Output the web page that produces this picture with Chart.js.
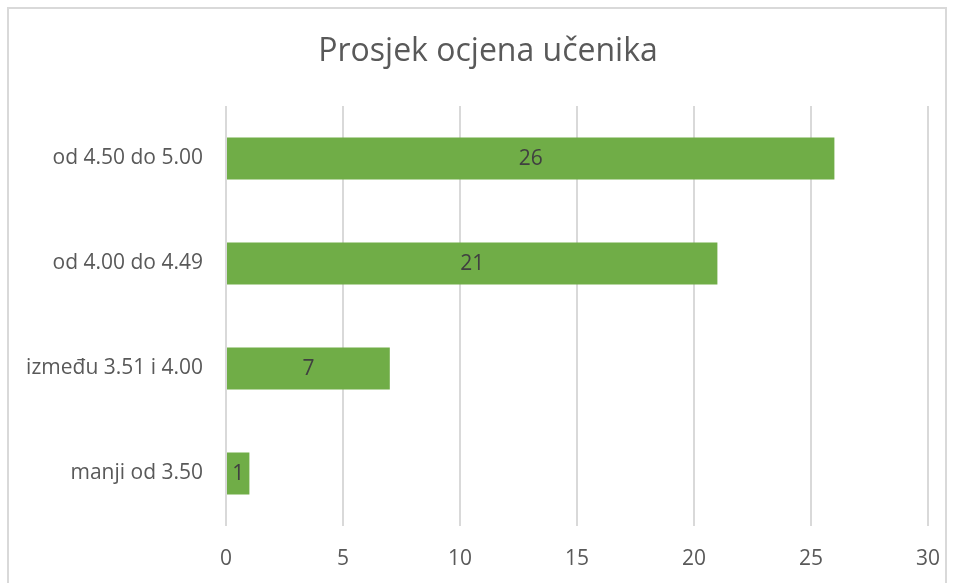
<!DOCTYPE html>
<html>
<head>
<meta charset="utf-8">
<script src="https://cdn.jsdelivr.net/npm/chart.js@4"></script>
<style>
html,body{margin:0;padding:0;background:#fff;}
#wrap{width:955px;height:583px;position:relative;}
</style>
</head>
<body>
<div id="wrap"><canvas id="c" width="955" height="583"></canvas></div>
<script>
const categories = ["od 4.50 do 5.00", "od 4.00 do 4.49", "između 3.51 i 4.00", "manji od 3.50"];
const values = [26, 21, 7, 1];
const xTicks = [0, 5, 10, 15, 20, 25, 30];
const titleText = "Prosjek ocjena učenika";

const FONT = "'Open Sans', sans-serif";

const borderPlugin = {
  id: 'outerBorder',
  beforeDraw(chart) {
    const ctx = chart.ctx;
    ctx.save();
    ctx.fillStyle = '#fff';
    ctx.fillRect(0, 0, chart.width, chart.height);
    ctx.strokeStyle = '#d9d9d9';
    ctx.lineWidth = 2;
    ctx.strokeRect(8, 8, 938, 590);
    ctx.restore();
  },
  afterLayout(chart) {
    const t = chart.titleBlock;
    if (t) { t.left = 48; t.right = 928; t.width = 880; }
  }
};

const labelPlugin = {
  id: 'barLabels',
  afterDatasetsDraw(chart) {
    const ctx = chart.ctx;
    const meta = chart.getDatasetMeta(0);
    ctx.save();
    ctx.font = "21px " + FONT;
    ctx.fillStyle = '#404040';
    ctx.textAlign = 'center';
    ctx.textBaseline = 'middle';
    meta.data.forEach((bar, i) => {
      const cx = (bar.x + bar.base) / 2;
      ctx.fillText(String(chart.data.datasets[0].data[i]), cx, bar.y + 1);
    });
    ctx.restore();
  }
};

new Chart(document.getElementById('c'), {
  type: 'bar',
  data: {
    labels: categories,
    datasets: [{
      data: values,
      backgroundColor: '#70ad47',
      borderWidth: 0,
      barPercentage: 0.4,
      categoryPercentage: 1.0
    }]
  },
  options: {
    indexAxis: 'y',
    responsive: false,
    animation: false,
    devicePixelRatio: 1,
    layout: { padding: { left: 0, right: 27, top: 0, bottom: 0 } },
    plugins: {
      legend: { display: false },
      tooltip: { enabled: false },
      title: {
        display: true,
        text: titleText,
        color: '#595959',
        font: { family: FONT, size: 32, weight: 'normal', lineHeight: 1.2 },
        padding: { top: 33, bottom: 34.6 }
      }
    },
    scales: {
      x: {
        min: 0,
        max: 30,
        afterBuildTicks(scale) { scale.ticks = xTicks.map(v => ({ value: v })); },
        afterFit(scale) { scale.height = 57; scale.paddingRight = 0; scale.paddingLeft = 0; },
        grid: { color: '#d9d9d9', lineWidth: 2, drawTicks: false },
        border: { display: false },
        ticks: {
          color: '#595959',
          font: { family: FONT, size: 21 },
          padding: 20
        }
      },
      y: {
        afterFit(scale) { scale.width = 226; scale.paddingTop = 0; scale.paddingBottom = 0; },
        grid: { display: false, drawTicks: false },
        border: { display: false },
        ticks: {
          color: '#595959',
          font: { family: FONT, size: 21 },
          padding: 23
        }
      }
    }
  },
  plugins: [borderPlugin, labelPlugin]
});
</script>
</body>
</html>
